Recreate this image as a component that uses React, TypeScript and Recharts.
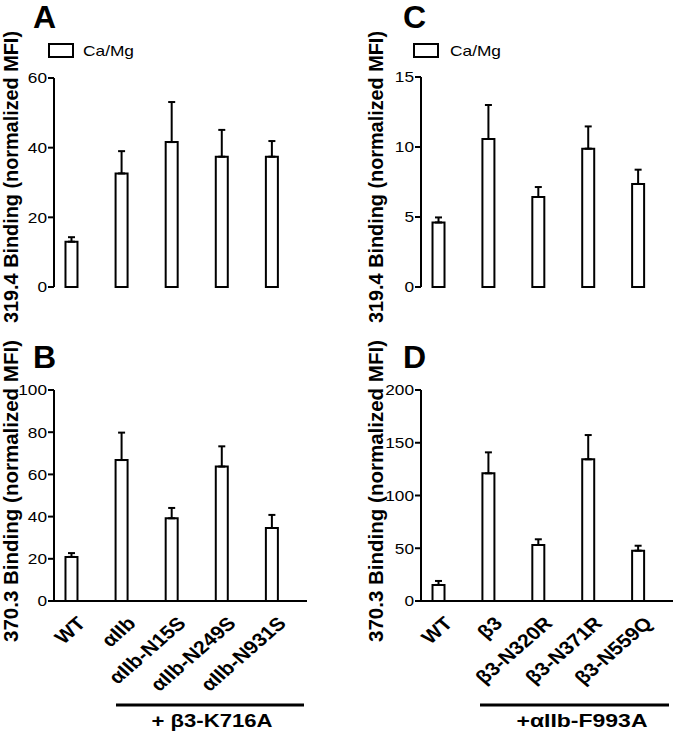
import React from 'react';
import { BarChart, Bar, XAxis, YAxis, ErrorBar } from 'recharts';

const FONT = '"Liberation Sans", Arial, Helvetica, sans-serif';

// ---- data ----
const categoriesAB = ['WT', 'αIIb', 'αIIb-N15S', 'αIIb-N249S', 'αIIb-N931S'];
const categoriesCD = ['WT', 'β3', 'β3-N320R', 'β3-N371R', 'β3-N559Q'];

const meanA = [13.0, 32.6, 41.6, 37.4, 37.4];
const errA = [1.3, 6.4, 11.5, 7.7, 4.5];

const meanB = [20.9, 66.8, 39.2, 63.7, 34.6];
const errB = [1.8, 13.0, 4.9, 9.6, 6.2];

const meanC = [4.61, 10.57, 6.43, 9.88, 7.36];
const errC = [0.36, 2.43, 0.71, 1.59, 1.02];

const meanD = [15.2, 121.0, 53.1, 134.3, 47.7];
const errD = [3.8, 19.9, 5.4, 23.0, 4.7];

const ticksA = [0, 20, 40, 60];
const ticksB = [0, 20, 40, 60, 80, 100];
const ticksC = [0, 5, 10, 15];
const ticksD = [0, 50, 100, 150, 200];

const titleTop = '319.4 Binding (normalized MFI)';
const titleBottom = '370.3 Binding (normalized MFI)';
const legendLabel = 'Ca/Mg';
const bracketAB = '+ β3-K716A';
const bracketCD = '+αIIb-F993A';
const panelLetters = ['A', 'B', 'C', 'D'];

const buildRows = (cats: string[], mean: number[], err: number[]) =>
  cats.map((name, i) => ({ idx: i, name, mean: mean[i], err: [0, err[i]] }));

const YTick = (props: any) => {
  const { x, y, payload } = props;
  return (
    <g transform={`translate(${x},${y})`}>
      <text
        x={0}
        y={0}
        dy="0.36em"
        textAnchor="end"
        transform="scale(1.15,1)"
        fontSize={15}
        fontFamily={FONT}
        fill="#000"
      >
        {payload.value}
      </text>
    </g>
  );
};

// x-axis of the lower panels sits at local y = 301
const X_AXIS_LOCAL_Y = 301;

const makeXTick = (cats: string[]) => (props: any) => {
  const { x, payload } = props;
  const tx = x + 10;
  const ty = X_AXIS_LOCAL_Y + 19;
  return (
    <g transform={`translate(${tx},${ty}) scale(1.15,1) rotate(-45)`}>
      <text
        x={0}
        y={0}
        textAnchor="end"
        dominantBaseline="central"
        fontSize={18.5}
        fontWeight="bold"
        fontFamily={FONT}
        fill="#000"
      >
        {cats[payload.value]}
      </text>
    </g>
  );
};

type PanelProps = {
  left: number;
  top: number;
  width: number;
  height: number;
  margin: { top: number; right: number; bottom: number; left: number };
  yWidth: number;
  xHeight: number;
  data: any[];
  ticks: number[];
  cats?: string[];
};

const Panel = ({ left, top, width, height, margin, yWidth, xHeight, data, ticks, cats }: PanelProps) => (
  <div style={{ position: 'absolute', left, top, width, height }}>
    <BarChart width={width} height={height} data={data} margin={margin}>
      <XAxis
        dataKey="idx"
        type="number"
        domain={[-0.35, 4.7]}
        allowDataOverflow
        ticks={[0, 1, 2, 3, 4]}
        interval={0}
        height={xHeight}
        tickLine={false}
        axisLine={{ stroke: '#000', strokeWidth: 2 }}
        tick={cats ? makeXTick(cats) : false}
      />
      <YAxis
        type="number"
        domain={[ticks[0], ticks[ticks.length - 1]]}
        ticks={ticks}
        interval={0}
        width={yWidth}
        tickSize={6}
        tickMargin={1}
        axisLine={{ stroke: '#000', strokeWidth: 2 }}
        tickLine={{ stroke: '#000', strokeWidth: 2 }}
        tick={<YTick />}
      />
      <Bar dataKey="mean" fill="#fff" stroke="#000" strokeWidth={2} barSize={12} isAnimationActive={false}>
        <ErrorBar dataKey="err" width={3.5} stroke="#000" strokeWidth={2} direction="y" isAnimationActive={false} />
      </Bar>
    </BarChart>
  </div>
);

const dataA = buildRows(categoriesAB, meanA, errA);
const dataB = buildRows(categoriesAB, meanB, errB);
const dataC = buildRows(categoriesCD, meanC, errC);
const dataD = buildRows(categoriesCD, meanD, errD);

const Legend = ({ x, y, textX }: { x: number; y: number; textX: number }) => (
  <g>
    <rect x={x} y={y} width={24} height={13} fill="#fff" stroke="#000" strokeWidth={2} />
    <text x={textX} y={y + 12} fontSize={15} fontFamily={FONT} fill="#000" textLength={51} lengthAdjust="spacingAndGlyphs">
      {legendLabel}
    </text>
  </g>
);

const YTitle = ({ x, cy, text, len }: { x: number; cy: number; text: string; len: number }) => (
  <text
    transform={`translate(${x},${cy}) rotate(-90)`}
    textAnchor="middle"
    fontSize={20}
    fontWeight="bold"
    fontFamily={FONT}
    fill="#000"
    textLength={len}
    lengthAdjust="spacingAndGlyphs"
  >
    {text}
  </text>
);

export default function App() {
  return (
    <div style={{ position: 'absolute', left: 0, top: 0, width: 675, height: 734, background: '#fff', fontFamily: FONT }}>
      <Panel left={0} top={0} width={320} height={300} margin={{ top: 78, right: 13, bottom: 13, left: 0 }} yWidth={54} xHeight={0} data={dataA} ticks={ticksA} />
      <Panel left={0} top={300} width={320} height={434} margin={{ top: 90, right: 13, bottom: 0, left: 0 }} yWidth={54} xHeight={133} data={dataB} ticks={ticksB} cats={categoriesAB} />
      <Panel left={360} top={0} width={315} height={300} margin={{ top: 77, right: 2, bottom: 13, left: 0 }} yWidth={61} xHeight={0} data={dataC} ticks={ticksC} />
      <Panel left={360} top={300} width={315} height={434} margin={{ top: 90, right: 2, bottom: 0, left: 0 }} yWidth={61} xHeight={133} data={dataD} ticks={ticksD} cats={categoriesCD} />
      <svg width={675} height={734} style={{ position: 'absolute', left: 0, top: 0, pointerEvents: 'none' }}>
        <text x={33} y={28} fontSize={32} fontWeight="bold" fontFamily={FONT} fill="#000">{panelLetters[0]}</text>
        <text x={33} y={368} fontSize={32} fontWeight="bold" fontFamily={FONT} fill="#000">{panelLetters[1]}</text>
        <text x={403} y={28} fontSize={32} fontWeight="bold" fontFamily={FONT} fill="#000">{panelLetters[2]}</text>
        <text x={403} y={368} fontSize={32} fontWeight="bold" fontFamily={FONT} fill="#000">{panelLetters[3]}</text>

        <Legend x={49} y={44} textX={83} />
        <Legend x={414} y={44} textX={450} />

        <YTitle x={18} cy={177} text={titleTop} len={292} />
        <YTitle x={18} cy={491} text={titleBottom} len={302} />
        <YTitle x={383} cy={177} text={titleTop} len={292} />
        <YTitle x={383} cy={491} text={titleBottom} len={302} />

        <line x1={116} x2={304} y1={705} y2={705} stroke="#000" strokeWidth={3} />
        <text x={212} y={727} textAnchor="middle" fontSize={18} fontWeight="bold" fontFamily={FONT} fill="#000" textLength={121} lengthAdjust="spacingAndGlyphs">
          {bracketAB}
        </text>
        <line x1={480} x2={669} y1={705} y2={705} stroke="#000" strokeWidth={3} />
        <text x={582} y={727} textAnchor="middle" fontSize={18} fontWeight="bold" fontFamily={FONT} fill="#000" textLength={131} lengthAdjust="spacingAndGlyphs">
          {bracketCD}
        </text>
      </svg>
    </div>
  );
}
